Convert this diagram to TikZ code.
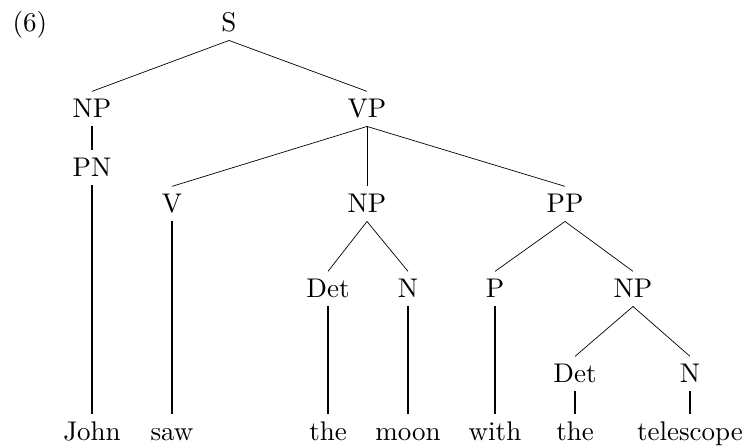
\documentclass[tikz,border=0pt]{standalone}
\usepackage{tikz}
\tikzset{
  cat/.style={scale=2.7,inner sep=0pt,text height=9.3pt,text depth=3.3pt,anchor=base},
  word/.style={cat},
  branch/.style={line width=0.7pt},
  unary/.style={line width=2pt},
}

\begin{document}
\begin{tikzpicture}[x=1pt,y=1pt]
    \useasboundingbox (0,0) rectangle (749,-447);
    \node[cat,anchor=base west] (ex) at (12,-31) {(6)};

    % categories
    \node[cat] (s) at (229,-31) {S};
    \node[cat] (np) at (92,-117) {NP};
    \node[cat] (vp) at (367,-117) {VP};
    \node[cat] (pn) at (92,-176) {PN};
    \node[cat] (v) at (172,-212) {V};
    \node[cat] (vnp) at (367,-212) {NP};
    \node[cat] (pp) at (565,-212) {PP};
    \node[cat] (det) at (328,-297) {Det};
    \node[cat] (noun) at (408,-297) {N};
    \node[cat] (p) at (495,-297) {P};
    \node[cat] (pnp) at (633,-297) {NP};
    \node[cat] (pdet) at (575,-382) {Det};
    \node[cat] (pnoun) at (690,-382) {N};

    % words
    \node[word] (john) at (92,-440) {John};
    \node[word] (saw) at (172,-440) {saw};
    \node[word] (the) at (328,-440) {the};
    \node[word] (moon) at (408,-440) {moon};
    \node[word] (with) at (495,-440) {with};
    \node[word] (pthe) at (575,-440) {the};
    \node[word] (telescope) at (690,-440) {telescope};

    % branches
    \draw[branch] (s.south) -- (np.north);
    \draw[branch] (s.south) -- (vp.north);
    \draw[unary] (np.south) -- (pn.north);
    \draw[unary] (pn.south) -- (john.north);
    \draw[branch] (vp.south) -- (v.north);
    \draw[branch] (vp.south) -- (vnp.north);
    \draw[branch] (vp.south) -- (pp.north);
    \draw[unary] (v.south) -- (saw.north);
    \draw[branch] (vnp.south) -- (det.north);
    \draw[branch] (vnp.south) -- (noun.north);
    \draw[unary] (det.south) -- (the.north);
    \draw[unary] (noun.south) -- (moon.north);
    \draw[branch] (pp.south) -- (p.north);
    \draw[branch] (pp.south) -- (pnp.north);
    \draw[unary] (p.south) -- (with.north);
    \draw[branch] (pnp.south) -- (pdet.north);
    \draw[branch] (pnp.south) -- (pnoun.north);
    \draw[unary] (pdet.south) -- (pthe.north);
    \draw[unary] (pnoun.south) -- (telescope.north);
\end{tikzpicture}
\end{document}
